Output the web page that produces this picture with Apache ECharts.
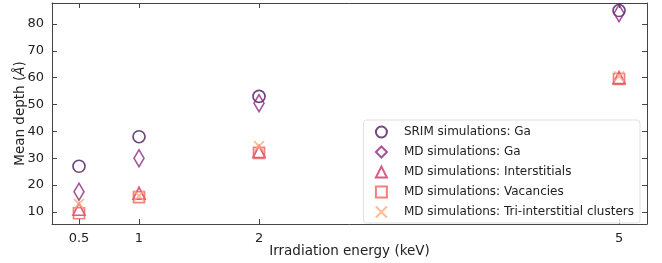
<!DOCTYPE html>
<html>
<head>
<meta charset="utf-8">
<script src="https://cdn.jsdelivr.net/npm/echarts@6/dist/echarts.min.js"></script>
<style>
html, body { margin: 0; padding: 0; background: #fff; }
#chart { width: 662px; height: 263px; }
</style>
</head>
<body>
<div id="chart"></div>
<script>
// irradiation energies (keV)
const energies = [0.5, 1, 2, 5];
const xTicks = [0.5, 1, 2, 5];
const yTicks = [10, 20, 30, 40, 50, 60, 70, 80];

// mean depth (Å)
const srimGa = [27, 38, 53, 85];
const mdGa = [17.5, 30, 50.5, 84];
const mdInterstitials = [11, 17, 32.5, 60];
const mdVacancies = [9.5, 15.5, 32, 59.5];
const mdTriClusters = [13, 16, 34.5, 60.5];

const names = [
    'SRIM simulations: Ga',
    'MD simulations: Ga',
    'MD simulations: Interstitials',
    'MD simulations: Vacancies',
    'MD simulations: Tri-interstitial clusters',
];

const font = 'DejaVu Sans';
const axisColor = '#444';

const pair = vals => energies.map((e, i) => [e, vals[i]]);

const mkSeries = (name, vals, symbol, size, color) => ({
    name: name,
    type: 'scatter',
    data: pair(vals),
    symbol: symbol,
    symbolSize: size,
    itemStyle: {
        color: 'none',
        borderColor: color,
        borderWidth: 1.7,
    },
    emphasis: {disabled: true},
});

const crossPath = 'path://M0,0L10,10M10,0L0,10';

const xBase = {
    type: 'value',
    min: 0.275,
    max: 5.233,
    axisLine: {show: true, lineStyle: {color: axisColor, width: 1}},
    splitLine: {show: false},
    axisTick: {show: true, inside: true, length: 5, customValues: xTicks, lineStyle: {color: axisColor}},
};
const yBase = {
    type: 'value',
    min: 5.5,
    max: 87.8,
    axisLine: {show: true, lineStyle: {color: axisColor, width: 1}},
    splitLine: {show: false},
    axisTick: {show: true, inside: true, length: 5, customValues: yTicks, lineStyle: {color: axisColor}},
};

const option = {
    animation: false,
    grid: {left: 52, right: 15, top: 3, bottom: 39, outerBoundsMode: 'none', containLabel: false},
    legend: {
        orient: 'vertical',
        right: 22,
        top: 120,
        itemWidth: 11,
        itemHeight: 11,
        itemGap: 4,
        padding: [4, 6, 3, 10],
        borderColor: '#e0e0e0',
        borderWidth: 1,
        borderRadius: 3,
        backgroundColor: 'rgba(255,255,255,0.8)',
        textStyle: {fontFamily: font, fontSize: 12, color: '#222', padding: [0, 0, 0, 12], lineHeight: 15},
        data: names,
    },
    xAxis: [
        Object.assign({}, xBase, {
            position: 'bottom',
            name: 'Irradiation energy (keV)',
            nameLocation: 'middle',
            nameGap: 20,
            nameMoveOverlap: false,
            nameTextStyle: {fontFamily: font, fontSize: 13.5, color: '#222'},
            axisLabel: {show: true, customValues: xTicks, fontFamily: font, fontSize: 13, color: '#222', margin: 8},
        }),
        Object.assign({}, xBase, {position: 'top', axisLabel: {show: false}}),
    ],
    yAxis: [
        Object.assign({}, yBase, {
            position: 'left',
            name: '{n|Mean depth (}{i|Å}{n|)}',
            nameLocation: 'middle',
            nameGap: 25,
            nameMoveOverlap: false,
            nameRotate: 90,
            nameTextStyle: {
                rich: {
                    n: {fontFamily: font, fontSize: 13.5, color: '#222'},
                    i: {fontFamily: font, fontSize: 13.5, color: '#222', fontStyle: 'italic'},
                },
            },
            axisLabel: {show: true, customValues: yTicks, fontFamily: font, fontSize: 13, color: '#222', margin: 8},
        }),
        Object.assign({}, yBase, {position: 'right', axisLabel: {show: false}}),
    ],
    series: [
        mkSeries(names[0], srimGa, 'circle', 12, '#4a1a5c'),
        mkSeries(names[1], mdGa, 'diamond', [10, 17], '#8c2981'),
        mkSeries(names[2], mdInterstitials, 'triangle', 12, '#d0336b'),
        mkSeries(names[3], mdVacancies, 'rect', 11, '#f1605d'),
        mkSeries(names[4], mdTriClusters, crossPath, 10, '#fcab7a'),
    ],
};

const chart = echarts.init(document.getElementById('chart'));
chart.setOption(option);
</script>
</body>
</html>
